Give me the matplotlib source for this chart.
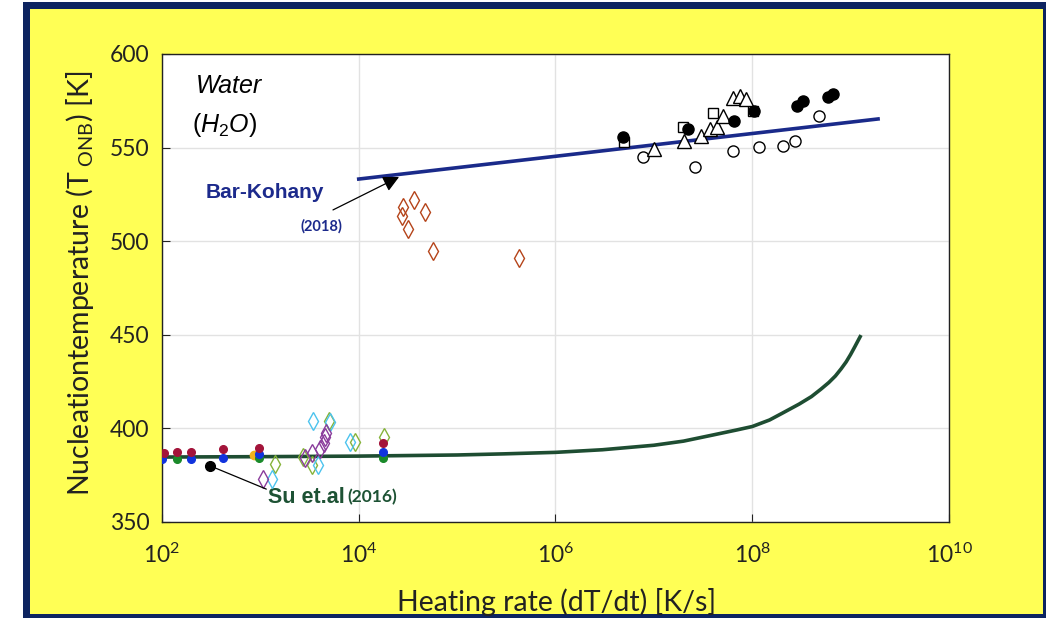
import matplotlib
matplotlib.use("Agg")
import matplotlib.pyplot as plt
from matplotlib.patches import Rectangle
import numpy as np

plt.rcParams['font.family'] = ['Lato', 'DejaVu Sans']
plt.rcParams['mathtext.fontset'] = 'custom'
plt.rcParams['mathtext.it'] = 'Liberation Sans:italic'
plt.rcParams['mathtext.rm'] = 'Liberation Sans'

# ---- data ----
bk_x = [1.0e4, 1.9e9]
bk_y = [533.2, 565.3]

su_x = [1e2, 1e3, 1e4, 1e5, 3e5, 1e6, 3e6, 1e7, 2e7, 4e7, 7e7, 1e8, 1.5e8, 2e8, 3e8,
        4e8, 5e8, 6e8, 7e8, 8e8, 9e8, 1e9, 1.1e9, 1.25e9]
su_y = [384.7, 384.9, 385.2, 385.8, 386.4, 387.2, 388.6, 391.0, 393.2, 396.5, 399.2, 401.0,
        404.5, 408.0, 413.0, 417.0, 421.0, 424.5, 428.0, 431.8, 435.5, 439.5, 443.5, 449.0]

filled_x = [4.82e6, 2.24e7, 6.58e7, 1.05e8, 2.83e8, 3.3e8, 5.93e8, 6.67e8]
filled_y = [555.8, 559.9, 564.4, 569.6, 572.2, 575.0, 577.2, 578.5]

open_c_x = [7.82e6, 2.62e7, 6.43e7, 1.16e8, 2.07e8, 2.74e8, 4.78e8]
open_c_y = [544.8, 539.8, 548.2, 550.5, 551.0, 553.5, 567.0]

square_x = [4.96e6, 2.0e7, 4.02e7, 1.01e8]
square_y = [553.2, 561.2, 568.3, 569.6]

tri_x = [1.0e7, 2.02e7, 2.99e7, 3.72e7, 4.42e7, 5.08e7, 6.43e7, 7.52e7, 8.59e7]
tri_y = [549.0, 553.7, 556.2, 559.9, 561.2, 567.0, 576.3, 577.6, 576.0]

brown_x = [2.84e4, 3.67e4, 2.77e4, 4.71e4, 3.19e4, 5.73e4, 4.26e5]
brown_y = [518.4, 522.0, 513.5, 515.8, 506.5, 494.8, 490.9]

red_x = [105, 141, 197, 420, 968, 1.78e4]
red_y = [387.0, 387.6, 387.6, 389.0, 389.4, 392.4]

blue_x = [100, 197, 420, 968, 1.78e4]
blue_y = [383.8, 383.8, 384.0, 386.3, 387.2]

green_x = [141, 968, 1.78e4]
green_y = [383.4, 384.2, 384.0]

orange_x = [861]
orange_y = [385.8]

lgreen_x = [1410, 2690, 3310, 4990, 9160, 1.82e4]
lgreen_y = [380.8, 384.9, 380.4, 404.1, 392.9, 395.2]

sky_x = [1325, 3450, 5100, 3880, 8150]
sky_y = [372.8, 404.1, 403.6, 380.4, 392.9]

purple_x = [1070, 2840, 3320, 4040, 4400, 4540, 4650]
purple_y = [373.0, 384.0, 386.7, 388.8, 392.0, 395.6, 397.4]

su_pt_x = [308]
su_pt_y = [380.0]

xticks = [1e2, 1e4, 1e6, 1e8, 1e10]
xtick_labels = [r'$\mathregular{10^{2}}$', r'$\mathregular{10^{4}}$', r'$\mathregular{10^{6}}$',
                r'$\mathregular{10^{8}}$', r'$\mathregular{10^{10}}$']
yticks = [350, 400, 450, 500, 550, 600]

# ---- figure ----
W, H = 1046, 618
fig = plt.figure(figsize=(W / 100, H / 100), dpi=100)
fig.patch.set_facecolor('white')
fig.patches.append(Rectangle((23 / W, 0), (W - 23) / W, 1 - 2 / H, transform=fig.transFigure,
                             facecolor='#0d2460', edgecolor='none', zorder=-10))
fig.patches.append(Rectangle((30 / W, 4 / H), (1043 - 30) / W, (609 - 4) / H, transform=fig.transFigure,
                             facecolor='#ffff55', edgecolor='none', zorder=-9))

ax = fig.add_axes([162 / W, 1 - 522 / H, (949 - 162) / W, (522 - 54) / H])
ax.set_facecolor('white')
ax.set_xscale('log')
ax.set_xlim(1e2, 1e10)
ax.set_ylim(350, 600)
ax.set_xticks(xticks)
ax.set_xticklabels(xtick_labels)
ax.set_yticks(yticks)
ax.xaxis.set_minor_locator(matplotlib.ticker.NullLocator())
ax.grid(True, color='#e2e2e2', linewidth=1.0, zorder=0)
ax.set_axisbelow(True)
ax.tick_params(axis='both', direction='in', length=6, width=0.8, labelsize=16.5,
               colors='#222222', pad=9)
ax.tick_params(axis='x', pad=15)
for s in ax.spines.values():
    s.set_color('#222222')
    s.set_linewidth(1.0)

# lines
ax.plot(bk_x, bk_y, color='#1a2a8a', lw=2.6, zorder=3)
ax.plot(su_x, su_y, color='#1e4d32', lw=2.6, zorder=3)

# top-right markers
ax.plot(open_c_x, open_c_y, 'o', ms=8, mfc='white', mec='black', mew=1.0, ls='none', zorder=4)
ax.plot(square_x, square_y, 's', ms=7, mfc='white', mec='black', mew=1.0, ls='none', zorder=4)
ax.plot(tri_x, tri_y, '^', ms=10, mfc='white', mec='black', mew=1.0, ls='none', zorder=4)
ax.plot(filled_x, filled_y, 'o', ms=8, mfc='black', mec='black', ls='none', zorder=5)

# brown diamonds
ax.plot(brown_x, brown_y, 'd', ms=9, mfc='none', mec='#b5441a', mew=1.0, ls='none', zorder=4)

# bottom-left
ax.plot(lgreen_x, lgreen_y, 'd', ms=9, mfc='none', mec='#86b33a', mew=1.0, ls='none', zorder=4)
ax.plot(sky_x, sky_y, 'd', ms=9, mfc='none', mec='#4cc3ee', mew=1.0, ls='none', zorder=4)
ax.plot(purple_x, purple_y, 'd', ms=9, mfc='none', mec='#8a3c9c', mew=1.0, ls='none', zorder=4)
ax.plot(orange_x, orange_y, 'o', ms=6, mfc='#f2b31c', mec='#f2b31c', ls='none', zorder=4)
ax.plot(green_x, green_y, 'o', ms=5.5, mfc='#1a8a2a', mec='#1a8a2a', ls='none', zorder=5)
ax.plot(blue_x, blue_y, 'o', ms=5.5, mfc='#1133dd', mec='#1133dd', ls='none', zorder=5)
ax.plot(red_x, red_y, 'o', ms=5.5, mfc='#a3143a', mec='#a3143a', ls='none', zorder=5)

# annotations
ax.text(0.043, 0.932, 'Water', transform=ax.transAxes, fontsize=18, style='italic',
        family='Liberation Sans', va='center', ha='left')
ax.text(0.038, 0.848, r'($\mathit{H}_{\mathregular{2}}\mathit{O}$)', transform=ax.transAxes, fontsize=18,
        family='Liberation Sans', va='center', ha='left')

ax.annotate('', xy=(2.57e4, 534.3), xytext=(5.47e3, 516.7),
            arrowprops=dict(arrowstyle='-|>', color='black', lw=0.9, mutation_scale=24,
                            shrinkA=0, shrinkB=0), zorder=6)
ax.text(0.055, 0.705, 'Bar-Kohany', transform=ax.transAxes, fontsize=15, fontweight='bold',
        color='#1c2a8c', family='Liberation Sans', ha='left', va='center')
ax.text(0.176, 0.632, '(2018)', transform=ax.transAxes, fontsize=10.5, fontweight='bold',
        color='#1c2a8c', ha='left', va='center')

ax.plot(su_pt_x, su_pt_y, 'o', ms=7, color='black', zorder=6)
ax.annotate('', xy=(su_pt_x[0], su_pt_y[0]), xytext=(1.22e3, 367.0),
            arrowprops=dict(arrowstyle='-', color='black', lw=0.9), zorder=6)
ax.text(0.135, 0.053, 'Su et.al', transform=ax.transAxes, fontsize=15.5, fontweight='bold',
        color='#1d5234', family='Liberation Sans', ha='left', va='center')
ax.text(0.236, 0.053, '(2016)', transform=ax.transAxes, fontsize=12.5, fontweight='bold',
        color='#1d5234', ha='left', va='center')

fig.text(557 / W, 1 - 602 / H, 'Heating rate (dT/dt) [K/s]', fontsize=20.5, color='#222222',
         ha='center', va='center')
fig.text(80 / W, 1 - 283 / H, r'Nucleationtemperature (T$_{\mathregular{\ ONB}}$) [K]', fontsize=20.5,
         color='#222222', ha='center', va='center', rotation=90)

fig.savefig('out.png', dpi=100)
